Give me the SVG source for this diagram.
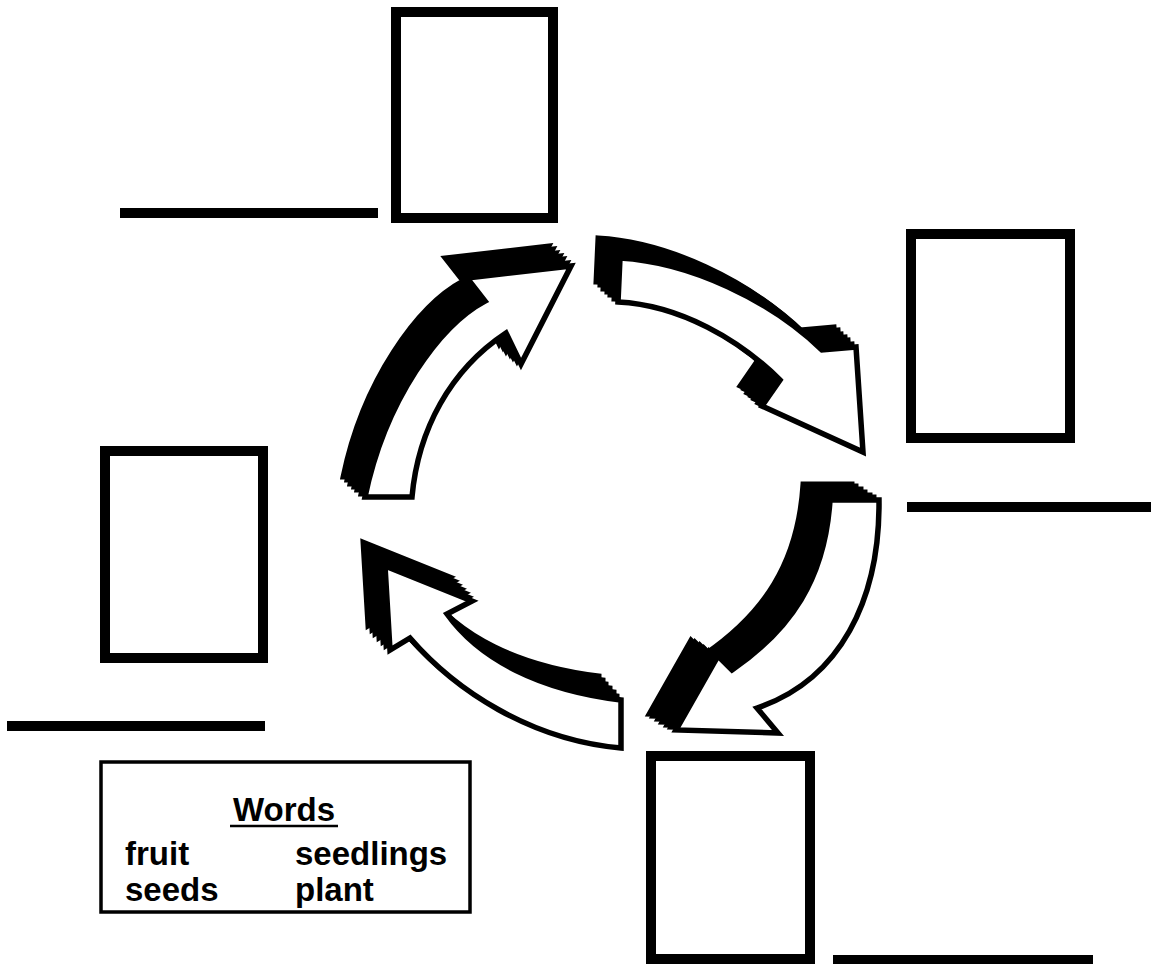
<svg xmlns="http://www.w3.org/2000/svg" width="1151" height="964" viewBox="0 0 1151 964">
<defs>
<style>
.box{fill:#fff;stroke:#000;stroke-width:10}
.line{stroke:#000;stroke-width:10;stroke-linecap:butt}
.shadow{fill:#000;stroke:#000;stroke-width:5;stroke-linejoin:miter}
.arrow{fill:#fff;stroke:#000;stroke-width:5.5;stroke-linejoin:miter;stroke-miterlimit:8}
.word{font-family:"Liberation Sans",Arial,sans-serif;font-weight:bold;font-size:33px;fill:#000}
</style>
<path id="a1" d="M571,266 L467,278 L485,301 C440,325 385,400 365,497 L412,497 C418,430 450,370 506,333 L521,364 Z"/>
<path id="a2" d="M620,258 C690,262 770,300 822,350 L856,347 L863,452 L762,406 L780,380 C740,340 680,305 618,302 Z"/>
<path id="a3" d="M830,500 L879,500 C880,600 840,680 757,708 L778,733 L676,730 L718,656 L732,670 C790,630 825,580 830,500 Z"/>
<path id="a4" d="M385,566 L472,601 L447,614 C480,660 540,690 621,700 L621,748 C530,740 455,690 410,638 L390,650 Z"/>
</defs>
<rect width="1151" height="964" fill="#fff"/>
<g id="connectors">
<g id="arrow-top-left">
<use href="#a1" class="shadow" transform="translate(-4,-3)"/>
<use href="#a1" class="shadow" transform="translate(-8,-7)"/>
<use href="#a1" class="shadow" transform="translate(-11,-10)"/>
<use href="#a1" class="shadow" transform="translate(-15,-13)"/>
<use href="#a1" class="shadow" transform="translate(-18,-17)"/>
<use href="#a1" class="shadow" transform="translate(-22,-20)"/>
<use href="#a1" class="arrow"/>
</g>
<g id="arrow-top-right">
<use href="#a2" class="shadow" transform="translate(-4,-3)"/>
<use href="#a2" class="shadow" transform="translate(-8,-7)"/>
<use href="#a2" class="shadow" transform="translate(-11,-10)"/>
<use href="#a2" class="shadow" transform="translate(-15,-13)"/>
<use href="#a2" class="shadow" transform="translate(-18,-17)"/>
<use href="#a2" class="shadow" transform="translate(-22,-20)"/>
<use href="#a2" class="arrow"/>
</g>
<g id="arrow-bottom-right">
<use href="#a3" class="shadow" transform="translate(-5,-3)"/>
<use href="#a3" class="shadow" transform="translate(-9,-5)"/>
<use href="#a3" class="shadow" transform="translate(-14,-8)"/>
<use href="#a3" class="shadow" transform="translate(-18,-11)"/>
<use href="#a3" class="shadow" transform="translate(-23,-14)"/>
<use href="#a3" class="shadow" transform="translate(-27,-16)"/>
<use href="#a3" class="arrow"/>
</g>
<g id="arrow-bottom-left">
<use href="#a4" class="shadow" transform="translate(-4,-4)"/>
<use href="#a4" class="shadow" transform="translate(-7,-8)"/>
<use href="#a4" class="shadow" transform="translate(-11,-12)"/>
<use href="#a4" class="shadow" transform="translate(-15,-16)"/>
<use href="#a4" class="shadow" transform="translate(-18,-20)"/>
<use href="#a4" class="shadow" transform="translate(-22,-24)"/>
<use href="#a4" class="arrow"/>
</g>
</g>
<g id="node-top">
<rect class="box" x="396" y="12" width="157" height="206"/>
<line class="line" x1="120" y1="213" x2="378" y2="213"/>
</g>
<g id="node-right">
<rect class="box" x="911" y="234" width="159" height="204"/>
<line class="line" x1="907" y1="507" x2="1151" y2="507"/>
</g>
<g id="node-bottom">
<rect class="box" x="651" y="756" width="159" height="203"/>
<line class="line" x1="833" y1="960" x2="1093" y2="960"/>
</g>
<g id="node-left">
<rect class="box" x="105" y="451" width="158" height="207"/>
<line class="line" x1="7" y1="726" x2="265" y2="726"/>
</g>
<g id="words-box">
<rect x="101" y="762" width="369" height="150" fill="#fff" stroke="#000" stroke-width="3.5"/>
<text class="word" x="284" y="821" text-anchor="middle" font-size="34">Words</text>
<line x1="230" y1="826" x2="338" y2="826" stroke="#000" stroke-width="2.5"/>
<text class="word" x="125" y="865">fruit</text>
<text class="word" x="295" y="865" font-size="33.6">seedlings</text>
<text class="word" x="125" y="901">seeds</text>
<text class="word" x="295" y="901">plant</text>
</g>
</svg>
